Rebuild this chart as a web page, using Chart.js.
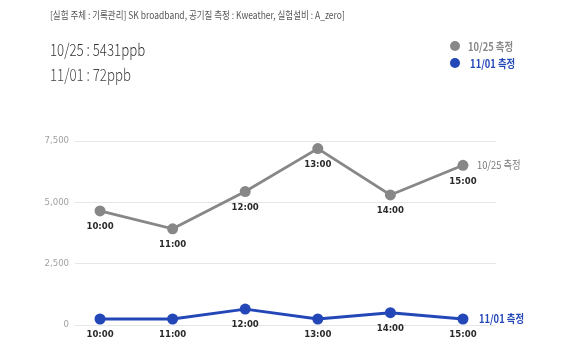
<!DOCTYPE html>
<html><head><meta charset="utf-8">
<script src="https://cdn.jsdelivr.net/npm/chart.js@4.4.1/dist/chart.umd.min.js"></script>
<style>
html,body{margin:0;padding:0;background:#fff;}
#wrap{position:relative;width:570px;height:360px;overflow:hidden;}
canvas{position:absolute;left:0;top:0;}
.t{position:absolute;white-space:nowrap;transform-origin:left center;font-family:"Noto Sans CJK KR","Noto Sans",sans-serif;}
#src{left:50px;top:7px;font-size:10px;color:#555;transform:scaleX(0.85);}
#v1{left:50px;top:36px;font-size:17px;color:#333;font-weight:300;transform:scaleX(0.78);}
#v2{left:50px;top:61px;font-size:17px;color:#444;font-weight:300;transform:scaleX(0.78);}
.lg{position:absolute;left:450px;font-family:"Noto Sans CJK KR",sans-serif;font-size:11px;font-weight:700;white-space:nowrap;}
.dot{display:inline-block;width:10px;height:10px;border-radius:50%;vertical-align:middle;margin-right:8px;}
#lg1{top:36px;color:#888;}
#lg2{top:53px;color:#2447b8;}
.lg span.tx{display:inline-block;transform:scaleX(0.85);transform-origin:left center;vertical-align:middle;}
</style></head>
<body><div id="wrap">
<canvas id="c" width="570" height="360"></canvas>
<div class="t" id="src">[실험 주체 : 기록관리] SK broadband, 공기질 측정 : Kweather, 실험설비 : A_zero]</div>
<div class="t" id="v1">10/25 : 5431ppb</div>
<div class="t" id="v2">11/01 : 72ppb</div>
<div class="lg" id="lg1"><span class="dot" style="background:#888"></span><span class="tx">10/25 측정</span></div>
<div class="lg" id="lg2"><span class="dot" style="background:#2447b8"></span><span class="tx">&nbsp;11/01 측정</span></div>
</div>
<script>
const categories = ["10:00","11:00","12:00","13:00","14:00","15:00"];
const seriesNames = ["10/25 측정","11/01 측정"];
const oct25 = [4650, 3920, 5440, 7190, 5300, 6510];
const nov01 = [245, 245, 650, 245, 500, 245];
const yTicks = [0, 2500, 5000, 7500];

const colors = ["#878787", "#2447b8"];
const labelColors = ["#7a7a7a", "#2447b8"];
const condensed = '"Liberation Sans Narrow","DejaVu Sans Condensed","Noto Sans CJK KR",sans-serif';

function pts(arr){ return arr.map((v,i)=>({x:i,y:v})); }

const labelPlugin = {
  id:'pointLabels',
  afterDatasetsDraw(chart){
    const ctx = chart.ctx;
    chart.data.datasets.forEach((ds,di)=>{
      const meta = chart.getDatasetMeta(di);
      ctx.save();
      ctx.font = 'bold 9.5px ' + condensed;
      ctx.fillStyle = '#2a2a2a';
      ctx.textAlign = 'center';
      ctx.textBaseline = 'top';
      meta.data.forEach((p,i)=>{
        ctx.fillText(categories[i], p.x, p.y + 11);
      });
      const last = meta.data[meta.data.length-1];
      ctx.font = (di===1?'bold ':'') + '11px "Noto Sans CJK KR",sans-serif';
      ctx.fillStyle = labelColors[di];
      ctx.textAlign = 'left';
      ctx.textBaseline = 'middle';
      ctx.translate(last.x + (di===1?16:14), last.y);
      ctx.scale(0.85,1);
      ctx.fillText(seriesNames[di], 0, 0);
      ctx.restore();
    });
  }
};

new Chart(document.getElementById('c'), {
  type:'line',
  data:{
    datasets:[
      {label:seriesNames[0], data:pts(oct25), borderColor:colors[0], backgroundColor:colors[0], borderWidth:2.8, pointRadius:5.5, pointBorderWidth:0, tension:0, clip:false},
      {label:seriesNames[1], data:pts(nov01), borderColor:colors[1], backgroundColor:colors[1], borderWidth:2.8, pointRadius:5.5, pointBorderWidth:0, tension:0, clip:false}
    ]
  },
  options:{
    responsive:false,
    animation:false,
    layout:{padding:{left:0,right:74,top:141,bottom:35}},
    plugins:{legend:{display:false},tooltip:{enabled:false}},
    scales:{
      x:{type:'linear', display:false, min:-0.345, max:5.455},
      y:{
        min:0, max:7500,
        afterFit(s){ s.width = 75; },
        afterBuildTicks(s){ s.ticks = yTicks.map(v=>({value:v})); },
        border:{display:false},
        grid:{color:'#e6e6e6', lineWidth:1, drawTicks:false},
        ticks:{padding:6, color:'#a0a0a0', font:{size:9.5, family:condensed},
          callback:(v)=>v.toLocaleString('en-US')}
      }
    }
  },
  plugins:[labelPlugin]
});
</script>
</body></html>
